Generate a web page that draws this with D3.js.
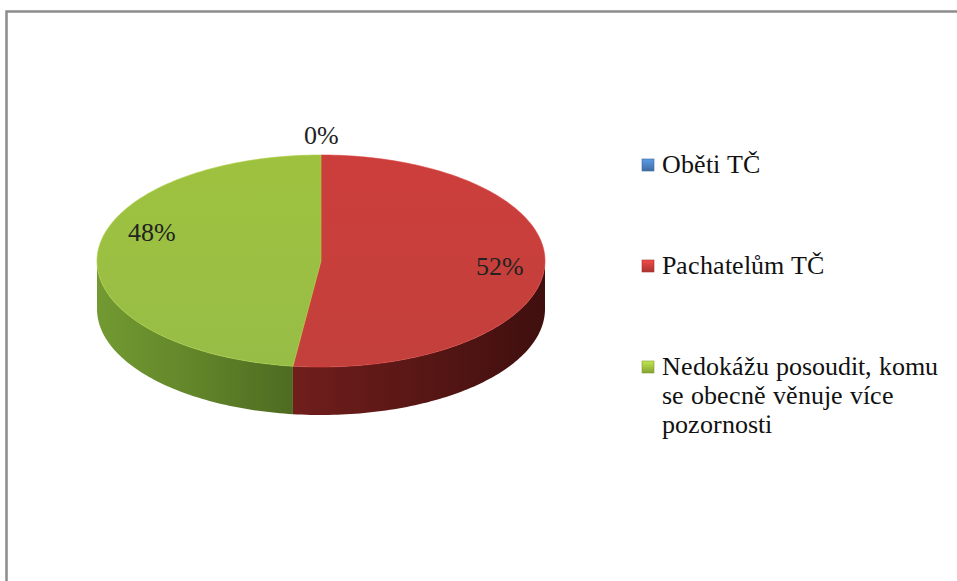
<!DOCTYPE html>
<html>
<head>
<meta charset="utf-8">
<script src="https://cdn.jsdelivr.net/npm/d3@7"></script>
<style>
  @font-face { font-family: "ChartSerif"; src: local("Liberation Serif"), local("LiberationSerif"), local("Times New Roman"); }
  body { margin: 0; }
  svg text { font-family: "ChartSerif", "Liberation Serif", "Times New Roman", serif !important; }
</style>
</head>
<body>
<script>
// chart data
var categories = ["Oběti TČ", "Pachatelům TČ", "Nedokážu posoudit, komu se obecně věnuje více pozornosti"];
var legendLines = [["Oběti TČ"], ["Pachatelům TČ"], ["Nedokážu posoudit, komu", "se obecně věnuje více", "pozornosti"]];
var values = [0, 52, 48];
var percentLabels = ["0%", "52%", "48%"];
var colors = ["#4a7ebb", "#c43c3a", "#9bbb3e"];

var width = 957, height = 581;
var cx = 321, cy = 261, rx = 224, ry = 106, depth = 48;

var svg = d3.select("body").append("svg")
    .attr("width", width)
    .attr("height", height)
    .style("display", "block");

// frame
svg.append("path")
    .attr("d", "M6.5," + height + "V11.5H" + width)
    .attr("fill", "none")
    .attr("stroke", "#8c8c8c")
    .attr("stroke-width", 2.5);

var defs = svg.append("defs");

// gradients for tops and sides
function sideGrad(id, c0, c1, c2) {
    var g = defs.append("linearGradient").attr("id", id)
        .attr("x1", "0%").attr("x2", "100%").attr("y1", "0%").attr("y2", "0%");
    g.append("stop").attr("offset", "0%").attr("stop-color", c0);
    g.append("stop").attr("offset", "50%").attr("stop-color", c1);
    g.append("stop").attr("offset", "100%").attr("stop-color", c2);
}
function topGrad(id, c0, c1) {
    var g = defs.append("linearGradient").attr("id", id)
        .attr("x1", "0%").attr("x2", "0%").attr("y1", "0%").attr("y2", "100%");
    g.append("stop").attr("offset", "0%").attr("stop-color", c0);
    g.append("stop").attr("offset", "100%").attr("stop-color", c1);
}
sideGrad("side0", "#2c4d77", "#2c4d77", "#1f3a5c");
sideGrad("side1", "#701e1c", "#581715", "#3f0f0e");
sideGrad("side2", "#729a31", "#62852a", "#4e6b21");
topGrad("top0", "#5a8ed0", "#4a7ebb");
topGrad("top1", "#cc3e3b", "#c3403c");
topGrad("top2", "#9ec23e", "#98bd47");

function legendGrad(id, c) {
    var g = defs.append("linearGradient").attr("id", id)
        .attr("x1", "0%").attr("x2", "0%").attr("y1", "0%").attr("y2", "100%");
    g.append("stop").attr("offset", "0%").attr("stop-color", d3.color(c).brighter(0.6));
    g.append("stop").attr("offset", "100%").attr("stop-color", d3.color(c).darker(0.4));
}
colors.forEach(function(c, i) { legendGrad("leg" + i, c); });

var pie = d3.pie().sort(null).value(function(d) { return d; });
var arcs = pie(values);

function px(a, k) { return cx + rx * (k || 1) * Math.sin(a); }
function py(a, k) { return cy - ry * (k || 1) * Math.cos(a); }

// sample an elliptical arc from a0 to a1
function edge(a0, a1, dy) {
    var n = Math.max(2, Math.ceil(Math.abs(a1 - a0) / 0.02));
    var pts = [];
    for (var i = 0; i <= n; i++) {
        var a = a0 + (a1 - a0) * i / n;
        pts.push([px(a), py(a) + (dy || 0)]);
    }
    return pts;
}
var line = d3.line();

// side walls (only the front half, angles between PI/2 and 3PI/2)
var sides = svg.append("g");
arcs.forEach(function(d, i) {
    if (d.value === 0) return;
    var a0 = Math.max(d.startAngle, Math.PI / 2),
        a1 = Math.min(d.endAngle, 3 * Math.PI / 2);
    if (a1 <= a0) return;
    var pts = edge(a0, a1, 0).concat(edge(a1, a0, depth));
    sides.append("path")
        .attr("d", line(pts) + "Z")
        .attr("fill", "url(#side" + i + ")");
});

// top faces
var tops = svg.append("g");
arcs.forEach(function(d, i) {
    if (d.value === 0) return;
    var pts = [[cx, cy]].concat(edge(d.startAngle, d.endAngle, 0));
    tops.append("path")
        .attr("d", line(pts) + "Z")
        .attr("fill", "url(#top" + i + ")")
        .attr("stroke", d3.color(colors[i]).brighter(0.3))
        .attr("stroke-width", 0.6);
});

// percentage labels
var labelNudge = [0, 0, 0.28];
svg.selectAll("text.pct")
    .data(arcs)
    .enter().append("text")
    .attr("class", "pct")
    .attr("x", function(d, i) {
        var a = (d.startAngle + d.endAngle) / 2 + labelNudge[i];
        return px(a, d.value === 0 ? 1.19 : 0.8);
    })
    .attr("y", function(d, i) {
        var a = (d.startAngle + d.endAngle) / 2 + labelNudge[i];
        return py(a, d.value === 0 ? 1.19 : 0.8) + 9;
    })
    .attr("text-anchor", "middle")
    .style("font-size", "26px")
    .style("fill", "#222")
    .text(function(d, i) { return percentLabels[i]; });

// legend
var legendY = d3.scalePoint().domain(categories).range([165, 367]);

svg.selectAll("rect.key")
    .data(categories)
    .enter().append("rect")
    .attr("class", "key")
    .attr("x", 642)
    .attr("y", function(d) { return legendY(d) - 6; })
    .attr("width", 12).attr("height", 12)
    .attr("fill", function(d, i) { return "url(#leg" + i + ")"; })
    .attr("stroke", function(d, i) { return d3.color(colors[i]).darker(0.5); })
    .attr("stroke-width", 0.6);

categories.forEach(function(c, i) {
    svg.selectAll(null)
        .data(legendLines[i])
        .enter().append("text")
        .attr("x", 662)
        .attr("y", function(d, j) { return legendY(c) + 8 + j * 29; })
        .style("font-size", "26px")
        .style("fill", "#111")
        .text(function(d) { return d; });
});
</script>
</body>
</html>
